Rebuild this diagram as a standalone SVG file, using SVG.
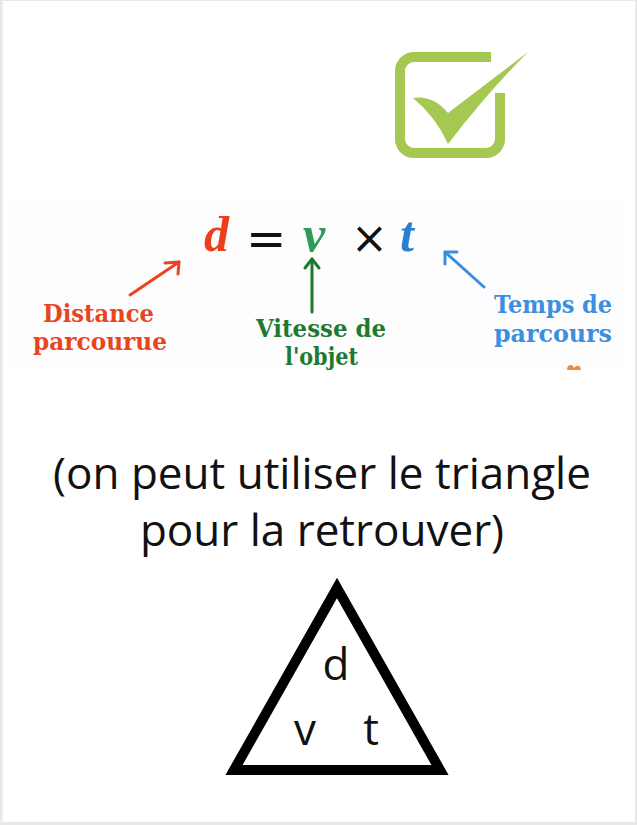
<svg xmlns="http://www.w3.org/2000/svg" width="637" height="825" viewBox="0 0 637 825">
<defs>
<style>
.lab{font-family:"DejaVu Serif","Liberation Serif",serif;font-weight:bold;font-size:25px}
.eq{font-family:"Liberation Serif","DejaVu Serif",serif;font-weight:bold;font-style:italic;font-size:50px}
.op{font-family:"DejaVu Sans","Liberation Sans",sans-serif;fill:#111}
.main{font-family:"Open Sans","DejaVu Sans",sans-serif;font-size:44px;fill:#111;text-anchor:middle}
.arr{fill:none;stroke-width:3;stroke-linecap:round;stroke-linejoin:round}
</style>
</defs>
<rect x="0" y="0" width="637" height="825" fill="#e8e8e8"/>
<rect x="2.5" y="1" width="632.5" height="821" fill="#ffffff"/>

<g id="checkbox">
<path d="M491 57 L414 57 A14 14 0 0 0 400 71 L400 139 A14 14 0 0 0 414 153 L486 153 A14 14 0 0 0 500 139 L500 93" fill="none" stroke="#a5c853" stroke-width="10"/>
<path d="M413 98 Q433 95 448 113 L528 52 Q488 92 448 144 Q436 117 413 98 Z" fill="#a5c853"/>
</g>

<g id="formula-image">
<rect x="10" y="200" width="616" height="170" fill="#fdfdfd"/>
<g id="formula">
<text class="eq" x="204" y="251" fill="#ef3d1c">d</text>
<text class="op" x="246" y="255" font-size="48">=</text>
<text class="eq" x="303" y="251" fill="#2e9c57">v</text>
<text class="op" x="351" y="253" font-size="44">×</text>
<text class="eq" x="400" y="251" fill="#2b7fcf">t</text>
</g>
<g id="connectors">
<g class="arr" stroke="#ec4220">
<path d="M130 295 L179 262"/>
<path d="M165 263 L179 262 L178 274"/>
</g>
<g class="arr" stroke="#1d7a2e">
<path d="M312 312 L312 259"/>
<path d="M305 268 L312 259 L319 268"/>
</g>
<g class="arr" stroke="#3b8ee0">
<path d="M484 287 L445 252"/>
<path d="M445 264 L445 252 L457 252"/>
</g>
</g>
<g id="label-distance" fill="#e8451f">
<text class="lab" x="43" y="322" textLength="111" lengthAdjust="spacingAndGlyphs">Distance</text>
<text class="lab" x="33" y="350" textLength="134" lengthAdjust="spacingAndGlyphs">parcourue</text>
</g>
<g id="label-vitesse" fill="#1d7a2e">
<text class="lab" x="256" y="337" textLength="130" lengthAdjust="spacingAndGlyphs">Vitesse de</text>
<text class="lab" x="285" y="365" textLength="73" lengthAdjust="spacingAndGlyphs">l'objet</text>
</g>
<g id="label-temps" fill="#3b8ee0">
<text class="lab" x="494" y="313" textLength="118" lengthAdjust="spacingAndGlyphs">Temps de</text>
<text class="lab" x="494" y="342" textLength="118" lengthAdjust="spacingAndGlyphs">parcours</text>
</g>
<rect x="0" y="370" width="637" height="12" fill="#ffffff"/>
<rect x="0" y="370" width="2.5" height="12" fill="#e8e8e8"/>
<rect x="635" y="370" width="2" height="12" fill="#e8e8e8"/>
<path d="M567 370 Q567 365 571 365 Q574 366 574 368 Q576 365 579 366 Q581 367 581 370 Z" fill="#f08a3c"/>
</g>

<g id="caption">
<text class="main" x="322" y="489">(on peut utiliser le triangle</text>
<text class="main" x="322" y="546">pour la retrouver)</text>
</g>

<g id="triangle">
<polygon points="337,588 234,770 440,770" fill="none" stroke="#000" stroke-width="10" stroke-linejoin="miter"/>
<text class="main" x="336" y="680">d</text>
<text class="main" x="305" y="745">v</text>
<text class="main" x="371" y="745">t</text>
</g>
</svg>
